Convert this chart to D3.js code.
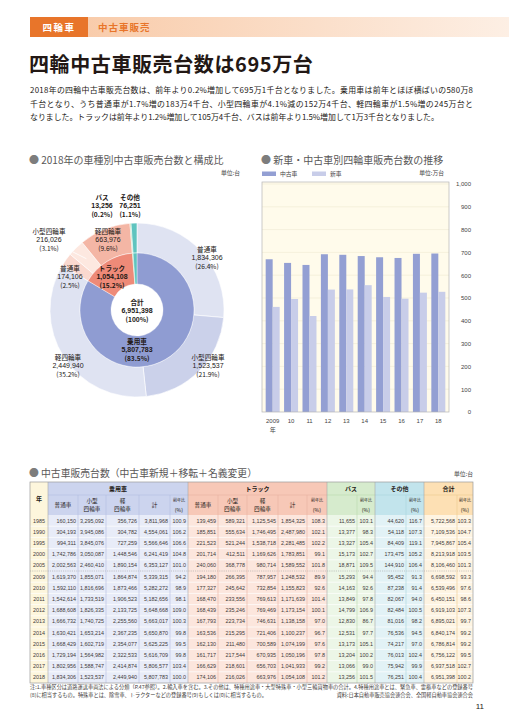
<!DOCTYPE html>
<html><head><meta charset="utf-8">
<script src="https://cdn.jsdelivr.net/npm/d3@7"></script>
<style>
body{margin:0;background:#fff}
svg{display:block;font-family:"Noto Sans CJK JP","Noto Sans",sans-serif}
</style></head><body>
<div id="page"></div>
<script>
// donut data (2018, units)
const innerCats = ["乗用車", "トラック", "バス", "その他"];
const innerValues = [5807783, 1054108, 13256, 76251];
const outerCats = ["普通車", "小型四輪車", "軽四輪車", "普通車", "小型四輪車", "軽四輪車", "バス", "その他"];
const outerValues = [1834306, 1523537, 2449940, 174106, 216026, 663976, 13256, 76251];
const pieTotal = 6951398;

// bar chart data (万台)
const barYears = ["2009", "10", "11", "12", "13", "14", "15", "16", "17", "18"];
const usedSales = [669.9, 653.9, 645.0, 691.9, 689.5, 684.0, 678.7, 675.6, 693.8, 695.1];
const newSales = [460.9, 495.6, 421.0, 536.9, 537.6, 556.3, 504.6, 497.0, 523.4, 527.2];
const barTicks = [0, 100, 200, 300, 400, 500, 600, 700, 800, 900, 1000];

// table data
const tableYears = ["1985", "1990", "1995", "2000", "2005", "2009", "2010", "2011", "2012", "2013", "2014", "2015", "2016", "2017", "2018"];
const carFutsu = [160150, 304193, 994311, 1742786, 2002563, 1619370, 1592110, 1542614, 1688608, 1666732, 1630421, 1668429, 1729194, 1802956, 1834306];
const carKogata = [3295092, 3945086, 3845076, 3050087, 2460410, 1855071, 1816696, 1733519, 1826335, 1740725, 1653214, 1602719, 1564982, 1588747, 1523537];
const carKei = [356726, 304782, 727259, 1448546, 1890154, 1864874, 1873466, 1906523, 2133725, 2255560, 2367235, 2354077, 2322533, 2414874, 2449940];
const carTotal = [3811968, 4554061, 5566646, 6241419, 6353127, 5339315, 5282272, 5182656, 5648668, 5663017, 5650870, 5625225, 5616709, 5806577, 5807783];
const carYoy = [100.9, 106.2, 106.6, 104.8, 101.0, 94.2, 98.9, 98.1, 109.0, 100.3, 99.8, 99.5, 99.8, 103.4, 100.0];
const truckFutsu = [139459, 185851, 221523, 201714, 240060, 194180, 177327, 168470, 168439, 167793, 163536, 162130, 161717, 166629, 174106];
const truckKogata = [589321, 555634, 521244, 412511, 368778, 266395, 245642, 233556, 235246, 223734, 215295, 211480, 217544, 218601, 216026];
const truckKei = [1125545, 1746495, 1538718, 1169626, 980714, 787957, 732854, 769613, 769469, 746631, 721406, 700589, 670935, 656703, 663976];
const truckTotal = [1854325, 2487980, 2281485, 1783851, 1589552, 1248532, 1155823, 1171639, 1173154, 1138158, 1100237, 1074199, 1050196, 1041933, 1054108];
const truckYoy = [108.3, 102.1, 102.2, 99.1, 101.8, 89.9, 92.6, 101.4, 100.1, 97.0, 96.7, 97.6, 97.8, 99.2, 101.2];
const busTotal = [11655, 13377, 13327, 15173, 18871, 15293, 14163, 13849, 14799, 12830, 12531, 13173, 13204, 13066, 13256];
const busYoy = [103.1, 98.3, 105.4, 102.7, 109.5, 94.4, 92.6, 97.8, 106.9, 86.7, 97.7, 105.1, 100.2, 99.0, 101.5];
const otherTotal = [44620, 54118, 84409, 173475, 144910, 95452, 87238, 82067, 82484, 81016, 76536, 74217, 76013, 75942, 76251];
const otherYoy = [116.7, 107.3, 119.1, 105.2, 106.4, 91.3, 91.4, 94.0, 100.5, 98.2, 94.5, 97.0, 102.4, 99.9, 100.4];
const grandTotal = [5722568, 7109536, 7945867, 8213918, 8106460, 6698592, 6539496, 6450151, 6919103, 6895021, 6840174, 6786814, 6756122, 6937518, 6951398];
const grandYoy = [103.3, 104.7, 105.4, 103.5, 101.3, 93.3, 97.6, 98.6, 107.3, 99.7, 99.2, 99.2, 99.5, 102.7, 100.2];

const fmt = d3.format(",");
const fmt1 = d3.format(".1f");
const latin = "Liberation Sans, Arial, sans-serif";

const svg = d3.select("#page").append("svg")
    .attr("width", 509)
    .attr("height", 720);

// ---------- page header ----------
const defs = svg.append("defs");
const grad = defs.append("linearGradient").attr("id", "band");
grad.append("stop").attr("offset", "0").attr("stop-color", "#f8c7a3");
grad.append("stop").attr("offset", "1").attr("stop-color", "#fdefe4");
svg.append("rect").attr("x", 30).attr("y", 17).attr("width", 479).attr("height", 20).attr("fill", "url(#band)");
svg.append("rect").attr("x", 30).attr("y", 17).attr("width", 58).attr("height", 20).attr("fill", "#e8752a");
svg.append("text").attr("x", 59).attr("y", 30.5).attr("text-anchor", "middle")
    .attr("font-size", 9.5).attr("font-weight", "bold").attr("fill", "#fff").attr("letter-spacing", 1.5)
    .text("四輪車");
svg.append("text").attr("x", 98).attr("y", 30.5)
    .attr("font-size", 9.5).attr("font-weight", "bold").attr("fill", "#e8752a").attr("letter-spacing", 1)
    .text("中古車販売");

svg.append("text").attr("x", 29).attr("y", 72)
    .attr("font-size", 20).attr("font-weight", "bold").attr("fill", "#231815").attr("letter-spacing", 0.6)
    .text("四輪中古車販売台数は695万台");

const para = [
    "2018年の四輪中古車販売台数は、前年より0.2%増加して695万1千台となりました。乗用車は前年とほぼ横ばいの580万8",
    "千台となり、うち普通車が1.7%増の183万4千台、小型四輪車が4.1%減の152万4千台、軽四輪車が1.5%増の245万台と",
    "なりました。トラックは前年より1.2%増加して105万4千台、バスは前年より1.5%増加して1万3千台となりました。"
];
svg.append("g").selectAll("text")
    .data(para)
    .join("text")
    .attr("x", 30)
    .attr("y", (d, i) => 93 + i * 13.5)
    .attr("font-size", 7.9)
    .attr("fill", "#231815")
    .attr("textLength", (d, i) => i < 2 ? 443 : null)
    .attr("lengthAdjust", "spacing")
    .text(d => d);

// section titles
function sectionTitle(x, y, label, len) {
    const t = svg.append("text").attr("x", x).attr("y", y).attr("font-size", 10).attr("fill", "#595757");
    if (len) t.attr("textLength", len).attr("lengthAdjust", "spacingAndGlyphs");
    t.append("tspan").attr("fill", "#7d7d7d").text("● ");
    t.append("tspan").text(label);
}
sectionTitle(29, 164, "2018年の車種別中古車販売台数と構成比");
sectionTitle(261, 164, "新車・中古車別四輪車販売台数の推移");
sectionTitle(29, 477, "中古車販売台数（中古車新規＋移転＋名義変更）", 228);

function unitLabel(x, y, label) {
    svg.append("text").attr("x", x).attr("y", y).attr("text-anchor", "end")
        .attr("font-size", 5.8).attr("fill", "#444").text(label);
}
unitLabel(240, 175, "単位:台");
unitLabel(444, 175, "単位:万台");
unitLabel(473, 476, "単位:台");

// ---------- donut ----------
const cx = 137, cy = 310;
const donut = svg.append("g").attr("transform", `translate(${cx},${cy})`);
const pie = d3.pie().sort(null).value(d => d);

const outerColors = ["#dfe3f2", "#cbd1ea", "#dfe3f2", "#fad9cf", "#fde8e0", "#f4b6a5", "#8ccb7c", "#5fc4bf"];
const innerColors = ["#8f9cd2", "#ee8a78", "#8ccb7c", "#5fc4bf"];

const outerArc = d3.arc().innerRadius(57).outerRadius(87);
const innerArc = d3.arc().innerRadius(26).outerRadius(57);

donut.append("g").selectAll("path")
    .data(pie(outerValues))
    .join("path")
    .attr("d", outerArc)
    .attr("fill", (d, i) => outerColors[i])
    .attr("stroke", "#fff")
    .attr("stroke-width", 0.6);

donut.append("g").selectAll("path")
    .data(pie(innerValues))
    .join("path")
    .attr("d", innerArc)
    .attr("fill", (d, i) => innerColors[i])
    .attr("stroke", "#fff")
    .attr("stroke-width", 0.4);

// label placement relative to donut centre (layout only)
const pct = v => "(" + fmt1(v / pieTotal * 100) + "%)";
const pieLabels = [
    { name: outerCats[0], value: outerValues[0], dx: 70, dy: -58, bold: false },
    { name: outerCats[1], value: outerValues[1], dx: 71, dy: 50, bold: false },
    { name: outerCats[2], value: outerValues[2], dx: -69, dy: 50, bold: false },
    { name: outerCats[3], value: outerValues[3], dx: -67, dy: -39, bold: false },
    { name: outerCats[4], value: outerValues[4], dx: -88, dy: -76, bold: false },
    { name: outerCats[5], value: outerValues[5], dx: -29, dy: -76, bold: false },
    { name: outerCats[6], value: outerValues[6], dx: -35, dy: -110, bold: true },
    { name: outerCats[7], value: outerValues[7], dx: -7, dy: -110, bold: true },
    { name: innerCats[1], value: innerValues[1], dx: -25, dy: -39, bold: true },
    { name: innerCats[0], value: innerValues[0], dx: 0, dy: 34, bold: true },
    { name: "合計", value: pieTotal, dx: 0, dy: -5, bold: true }
];

const lbl = donut.append("g").selectAll("text")
    .data(pieLabels)
    .join("text")
    .attr("text-anchor", "middle")
    .attr("font-size", 6.6)
    .attr("fill", "#231815")
    .attr("font-weight", d => d.bold ? "bold" : "normal");
lbl.each(function (d) {
    const lines = [d.name, fmt(d.value), d.name === "合計" ? "(100%)" : pct(d.value)];
    d3.select(this).selectAll("tspan")
        .data(lines)
        .join("tspan")
        .attr("x", d.dx)
        .attr("y", (l, i) => d.dy + i * 8.4)
        .attr("font-family", (l, i) => i === 1 ? latin : null)
        .attr("font-size", (l, i) => i === 1 ? 7 : null)
        .text(l => l);
});

// leader for small truck slice
const c4 = outerArc.centroid(pie(outerValues)[4]);
donut.append("line")
    .attr("x1", -64).attr("y1", -58)
    .attr("x2", c4[0]).attr("y2", c4[1])
    .attr("stroke", "#fff").attr("stroke-width", 0.8);

// ---------- bar chart ----------
const plot = { left: 262, right: 449, top: 182, bottom: 412 };
const xBar = d3.scaleBand().domain(barYears).range([plot.left, plot.right]).paddingInner(0.24).paddingOuter(0.2);
const xSub = d3.scaleBand().domain(["used", "new"]).range([0, xBar.bandwidth()]);
const yBar = d3.scaleLinear().domain([0, 1000]).range([plot.bottom, plot.top + 2]);

svg.append("rect")
    .attr("x", plot.left).attr("y", plot.top)
    .attr("width", plot.right - plot.left).attr("height", plot.bottom - plot.top)
    .attr("fill", "#fffbeb");

svg.append("g")
    .selectAll("line")
    .data(barTicks.slice(1))
    .join("line")
    .attr("x1", plot.left).attr("x2", plot.right)
    .attr("y1", d => yBar(d)).attr("y2", d => yBar(d))
    .attr("stroke", "#efe9d2").attr("stroke-width", 0.6);

const barColors = { used: "#939fd3", new: "#c8cde9" };
svg.append("g")
    .selectAll("g")
    .data(barYears.map((y, i) => ({ year: y, used: usedSales[i], new: newSales[i] })))
    .join("g")
    .attr("transform", d => `translate(${xBar(d.year)},0)`)
    .selectAll("rect")
    .data(d => ["used", "new"].map(k => ({ key: k, value: d[k] })))
    .join("rect")
    .attr("x", d => xSub(d.key))
    .attr("y", d => yBar(d.value))
    .attr("width", xSub.bandwidth())
    .attr("height", d => yBar(0) - yBar(d.value))
    .attr("fill", d => barColors[d.key]);

svg.append("rect")
    .attr("x", plot.left).attr("y", plot.top)
    .attr("width", plot.right - plot.left).attr("height", plot.bottom - plot.top)
    .attr("fill", "none").attr("stroke", "#b5b5b5").attr("stroke-width", 0.7);

// right axis
svg.append("g")
    .attr("transform", `translate(${plot.right},0)`)
    .call(d3.axisRight(yBar).tickValues(barTicks).tickSize(0).tickFormat(fmt))
    .call(g => g.select(".domain").remove())
    .call(g => g.selectAll("text").attr("x", 22).attr("text-anchor", "end")
        .attr("font-size", 6).attr("fill", "#444").attr("font-family", latin));

// bottom axis
svg.append("g")
    .attr("transform", `translate(0,${plot.bottom})`)
    .call(d3.axisBottom(xBar).tickSize(0).tickPadding(7))
    .call(g => g.select(".domain").remove())
    .call(g => g.selectAll("text").attr("font-size", 6).attr("fill", "#444").attr("font-family", latin));
svg.append("text").attr("x", xBar(barYears[0]) + xBar.bandwidth() / 2).attr("y", 432)
    .attr("text-anchor", "middle").attr("font-size", 6).attr("fill", "#444").text("年");

// legend
const legendItems = [{ key: "used", label: "中古車", x: 262 }, { key: "new", label: "新車", x: 312 }];
legendItems.forEach(l => {
    svg.append("rect").attr("x", l.x).attr("y", 171.5).attr("width", 14).attr("height", 4.5).attr("fill", barColors[l.key]);
    svg.append("text").attr("x", l.x + 18).attr("y", 176).attr("font-size", 5.8).attr("fill", "#444").text(l.label);
});

// ---------- table ----------
const sections = [
    { name: "", head: "#fdf6dc", body: "#fdf6dc", line: "#e4d9b0" },
    { name: "乗用車", head: "#ccd4ee", body: "#e8ecf8", line: "#b3bde0" },
    { name: "トラック", head: "#f7c8b7", body: "#fce6dd", line: "#e7b4a3" },
    { name: "バス", head: "#d6ebcd", body: "#ecf6e7", line: "#b9d8ad" },
    { name: "その他", head: "#c2e4ec", body: "#e2f2f6", line: "#a7d3de" },
    { name: "合計", head: "#fde0b4", body: "#fef4e2", line: "#ecc98f" }
];
const columns = [
    { sec: 0, w: 18, head: ["年"], data: tableYears, kind: "year" },
    { sec: 1, w: 30, head: ["普通車"], data: carFutsu },
    { sec: 1, w: 28, head: ["小型", "四輪車"], data: carKogata },
    { sec: 1, w: 33, head: ["軽", "四輪車"], data: carKei },
    { sec: 1, w: 31, head: ["計"], data: carTotal },
    { sec: 1, w: 18, head: ["前年比", "(%)"], data: carYoy, kind: "yoy" },
    { sec: 2, w: 30, head: ["普通車"], data: truckFutsu },
    { sec: 2, w: 29, head: ["小型", "四輪車"], data: truckKogata },
    { sec: 2, w: 31, head: ["軽", "四輪車"], data: truckKei },
    { sec: 2, w: 29, head: ["計"], data: truckTotal },
    { sec: 2, w: 20, head: ["前年比", "(%)"], data: truckYoy, kind: "yoy" },
    { sec: 3, w: 30, head: [], data: busTotal },
    { sec: 3, w: 18, head: ["前年比", "(%)"], data: busYoy, kind: "yoy" },
    { sec: 4, w: 31, head: [], data: otherTotal },
    { sec: 4, w: 18, head: ["前年比", "(%)"], data: otherYoy, kind: "yoy" },
    { sec: 5, w: 33, head: [], data: grandTotal },
    { sec: 5, w: 16, head: ["前年比", "(%)"], data: grandYoy, kind: "yoy" }
];
const tableLeft = 30, headTop = 482, head2Top = 495, bodyTop = 515, bodyBottom = 683;
let acc = tableLeft;
columns.forEach(c => { c.x0 = acc; acc += c.w; c.x1 = acc; });
const tableRight = acc;
const yRow = d3.scaleBand().domain(tableYears).range([bodyTop, bodyBottom]);

const tbl = svg.append("g").attr("font-family", latin);

// body backgrounds
tbl.selectAll("rect.body")
    .data(columns)
    .join("rect")
    .attr("x", c => c.x0).attr("y", bodyTop)
    .attr("width", c => c.w).attr("height", bodyBottom - bodyTop)
    .attr("fill", c => sections[c.sec].body);

// section header backgrounds
sections.forEach((s, si) => {
    const cols = columns.filter(c => c.sec === si);
    const x0 = d3.min(cols, c => c.x0), x1 = d3.max(cols, c => c.x1);
    tbl.append("rect").attr("x", x0).attr("y", headTop).attr("width", x1 - x0).attr("height", bodyTop - headTop)
        .attr("fill", s.head);
    if (s.name) {
        tbl.append("text").attr("x", (x0 + x1) / 2).attr("y", headTop + 9)
            .attr("text-anchor", "middle").attr("font-size", 6).attr("font-weight", "bold")
            .attr("font-family", "Noto Sans CJK JP").attr("fill", "#231815").text(s.name);
        tbl.append("line").attr("x1", x0).attr("x2", x1).attr("y1", head2Top).attr("y2", head2Top)
            .attr("stroke", s.line).attr("stroke-width", 0.6);
    }
});

// row separators
tbl.selectAll("line.row")
    .data(tableYears.slice(1))
    .join("line")
    .attr("x1", tableLeft).attr("x2", tableRight)
    .attr("y1", d => yRow(d)).attr("y2", d => yRow(d))
    .attr("stroke", d => d === "2009" ? "#9a9a9a" : "#ffffff")
    .attr("stroke-width", d => d === "2009" ? 0.5 : 0.7)
    .attr("stroke-dasharray", d => d === "2009" ? "1.2,1" : null);

// column separators
columns.slice(1).forEach((c, i) => {
    const prev = columns[i];
    const boundary = prev.sec !== c.sec;
    tbl.append("line")
        .attr("x1", c.x0).attr("x2", c.x0)
        .attr("y1", boundary ? headTop : head2Top)
        .attr("y2", bodyBottom)
        .attr("stroke", boundary ? "#a8a8a8" : sections[c.sec].line)
        .attr("stroke-width", 0.6);
});

// header row 2 texts
columns.forEach(c => {
    const mid = (c.x0 + c.x1) / 2;
    if (c.kind === "year") {
        tbl.append("text").attr("x", mid).attr("y", 501).attr("text-anchor", "middle")
            .attr("font-size", 6).attr("font-weight", "bold").attr("font-family", "Noto Sans CJK JP")
            .attr("fill", "#231815").text(c.head[0]);
        return;
    }
    if (c.kind === "yoy") {
        tbl.append("text").attr("x", mid).attr("y", 502).attr("text-anchor", "middle")
            .attr("font-size", 4).attr("font-family", "Noto Sans CJK JP").attr("fill", "#231815").text(c.head[0]);
        tbl.append("text").attr("x", mid).attr("y", 511.5).attr("text-anchor", "middle")
            .attr("font-size", 5.2).attr("font-family", "Noto Sans CJK JP").attr("fill", "#231815").text(c.head[1]);
        return;
    }
    c.head.forEach((h, i) => {
        tbl.append("text").attr("x", mid)
            .attr("y", c.head.length === 1 ? 507 : 503 + i * 8)
            .attr("text-anchor", "middle").attr("font-size", 5.6).attr("font-family", "Noto Sans CJK JP")
            .attr("fill", "#231815").text(h);
    });
});

// body cells
columns.forEach(c => {
    tbl.append("g").selectAll("text")
        .data(c.data.map((v, i) => ({ v, year: tableYears[i] })))
        .join("text")
        .attr("x", c.kind === "year" ? (c.x0 + c.x1) / 2 : c.x1 - 2)
        .attr("y", d => yRow(d.year) + yRow.bandwidth() / 2 + 2)
        .attr("text-anchor", c.kind === "year" ? "middle" : "end")
        .attr("font-size", 5.4)
        .attr("fill", "#3e3a39")
        .text(d => c.kind === "year" ? d.v : c.kind === "yoy" ? fmt1(d.v) : fmt(d.v));
});

// outer border
tbl.append("rect").attr("x", tableLeft).attr("y", headTop)
    .attr("width", tableRight - tableLeft).attr("height", bodyBottom - headTop)
    .attr("fill", "none").attr("stroke", "#9a9a9a").attr("stroke-width", 0.7);

// ---------- notes ----------
svg.append("text").attr("x", 30).attr("y", 689).attr("font-size", 5.2).attr("fill", "#3e3a39")
    .attr("textLength", 443).attr("lengthAdjust", "spacingAndGlyphs")
    .text("注:1.車種区分は道路運送車両法による分類（P.47参照）。2.輸入車を含む。3.その他は、特種用途車・大型特殊車・小型三輪貨物車の合計。4.特種用途車とは、緊急車、霊柩車などの登録番号");
svg.append("text").attr("x", 30).attr("y", 697).attr("font-size", 5.2).attr("fill", "#3e3a39")
    .text("(8)に相当するもの。特殊車とは、除雪車、トラクターなどの登録番号(9)もしくは(0)に相当するもの。");
svg.append("text").attr("x", 473).attr("y", 697).attr("text-anchor", "end").attr("font-size", 5.2).attr("fill", "#3e3a39")
    .text("資料:日本自動車販売協会連合会、全国軽自動車協会連合会");
svg.append("text").attr("x", 484).attr("y", 709).attr("text-anchor", "end").attr("font-size", 8).attr("fill", "#231815")
    .attr("font-family", latin).text("11");
</script>
</body></html>
